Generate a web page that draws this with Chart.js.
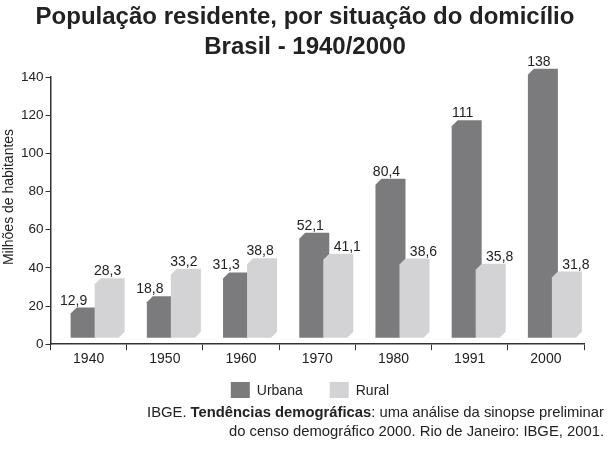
<!DOCTYPE html>
<html>
<head>
<meta charset="utf-8">
<script src="https://cdn.jsdelivr.net/npm/chart.js@4/dist/chart.umd.min.js"></script>
<style>
  html, body { margin: 0; padding: 0; background: #fff; }
  #wrap { width: 610px; height: 453px; position: relative; }
</style>
</head>
<body>
<div id="wrap"><canvas id="c" width="610" height="453"></canvas></div>
<script>
const categories = ['1940', '1950', '1960', '1970', '1980', '1991', '2000'];
const urbana = [12.9, 18.8, 31.3, 52.1, 80.4, 111, 138];
const rural = [28.3, 33.2, 38.8, 41.1, 38.6, 35.8, 31.8];
const seriesNames = ['Urbana', 'Rural'];
const yTicks = [0, 20, 40, 60, 80, 100, 120, 140];
const titleLines = ['População residente, por situação do domicílio', 'Brasil - 1940/2000'];
const yTitle = 'Milhões de habitantes';
const sourceLine1 = [['IBGE. ', false], ['Tendências demográficas', true], [': uma análise da sinopse preliminar', false]];
const sourceLine2 = 'do censo demográfico 2000. Rio de Janeiro: IBGE, 2001.';

const FONT = "'Liberation Sans', Arial, sans-serif";
const TEXT = '#222';
const SX = 6, SY = -6, D = 6;

const bars3d = {
  id: 'bars3d',
  beforeDatasetDraw() { return false; },
  afterDatasetsDraw(chart) {
    const ctx = chart.ctx;
    ctx.save();
    chart.data.datasets.forEach((ds, i) => {
      const meta = chart.getDatasetMeta(i);
      ctx.fillStyle = ds.backgroundColor;
      meta.data.forEach(el => {
        const p = el.getProps(['x', 'y', 'base', 'width'], true);
        const L = p.x - p.width / 2 + SX, R = p.x + p.width / 2 + SX;
        const T = p.y + SY, B = p.base + SY;
        ctx.beginPath();
        ctx.moveTo(L, B);
        ctx.lineTo(L, T);
        ctx.lineTo(L + D, T - D);
        ctx.lineTo(R + D, T - D);
        ctx.lineTo(R + D, B - D);
        ctx.lineTo(R, B);
        ctx.closePath();
        ctx.fill();
      });
    });
    ctx.font = '14px ' + FONT;
    ctx.fillStyle = TEXT;
    ctx.textAlign = 'center';
    ctx.textBaseline = 'alphabetic';
    const sets = chart.data.datasets;
    sets.forEach((ds, i) => {
      const meta = chart.getDatasetMeta(i);
      const other = sets[1 - i].data;
      meta.data.forEach((el, j) => {
        const p = el.getProps(['x', 'y'], true);
        let off;
        if (i === 0) off = other[j] > ds.data[j] ? -9 : -1;
        else off = other[j] > ds.data[j] ? 12 : 1;
        const txt = String(ds.data[j]).replace('.', ',');
        ctx.fillText(txt, p.x + SX + off, p.y + SY - D - 3);
      });
    });
    ctx.restore();
  },
  afterDraw(chart) {
    const ctx = chart.ctx;
    ctx.save();
    // title
    ctx.fillStyle = TEXT;
    ctx.font = 'bold 24px ' + FONT;
    ctx.textAlign = 'center';
    ctx.textBaseline = 'middle';
    ctx.fillText(titleLines[0], 305, 17);
    ctx.fillText(titleLines[1], 305, 47);
    // y-axis title
    ctx.save();
    ctx.translate(9, 197);
    ctx.rotate(-Math.PI / 2);
    ctx.font = '14px ' + FONT;
    ctx.fillText(yTitle, 0, 0);
    ctx.restore();
    // legend
    ctx.font = '14px ' + FONT;
    const box = 19, gap = 7, sep = 27;
    const items = chart.data.datasets.map(ds => ({ label: ds.label, color: ds.backgroundColor, w: box + gap + ctx.measureText(ds.label).width }));
    const total = items.reduce((a, b) => a + b.w, 0) + sep * (items.length - 1);
    let x = 310 - total / 2;
    const ly = 390;
    items.forEach(it => {
      ctx.fillStyle = it.color;
      ctx.fillRect(x, ly - 8, box, 16);
      ctx.fillStyle = TEXT;
      ctx.textBaseline = 'middle';
      ctx.textAlign = 'left';
      ctx.fillText(it.label, x + box + gap, ly + 1);
      x += it.w + sep;
    });
    // source
    const right = 604;
    ctx.textBaseline = 'middle';
    const fs = '14.8px ';
    let w = 0;
    sourceLine1.forEach(([t, b]) => { ctx.font = (b ? 'bold ' : '') + fs + FONT; w += ctx.measureText(t).width; });
    x = right - w;
    sourceLine1.forEach(([t, b]) => {
      ctx.font = (b ? 'bold ' : '') + fs + FONT;
      ctx.textAlign = 'left';
      ctx.fillText(t, x, 413);
      x += ctx.measureText(t).width;
    });
    ctx.font = fs + FONT;
    ctx.textAlign = 'right';
    ctx.fillText(sourceLine2, right, 432);
    ctx.restore();
  }
};

new Chart(document.getElementById('c'), {
  type: 'bar',
  data: {
    labels: categories,
    datasets: [
      { label: seriesNames[0], data: urbana, backgroundColor: '#7b7b7e' },
      { label: seriesNames[1], data: rural, backgroundColor: '#d3d3d5' }
    ]
  },
  options: {
    responsive: false,
    devicePixelRatio: 1,
    animation: false,
    categoryPercentage: 0.63,
    barPercentage: 1,
    layout: { padding: { left: 19, right: 26, top: 77, bottom: 84 } },
    plugins: {
      legend: { display: false },
      tooltip: { enabled: false },
      title: { display: false }
    },
    scales: {
      x: {
        grid: { display: true, drawOnChartArea: false, drawTicks: true, tickLength: 6, color: '#333', offset: true },
        border: { display: true, color: '#333', width: 1.5 },
        ticks: { color: TEXT, font: { family: FONT, size: 14 }, padding: 1 }
      },
      y: {
        min: 0, max: 140,
        afterBuildTicks(scale) { scale.ticks = yTicks.map(v => ({ value: v })); },
        grid: { display: true, drawOnChartArea: false, drawTicks: true, tickLength: 5, color: '#333' },
        border: { display: true, color: '#333', width: 1.5 },
        ticks: { color: TEXT, font: { family: FONT, size: 13.5 }, padding: 2 },
        title: { display: false }
      }
    }
  },
  plugins: [bars3d]
});
</script>
</body>
</html>
